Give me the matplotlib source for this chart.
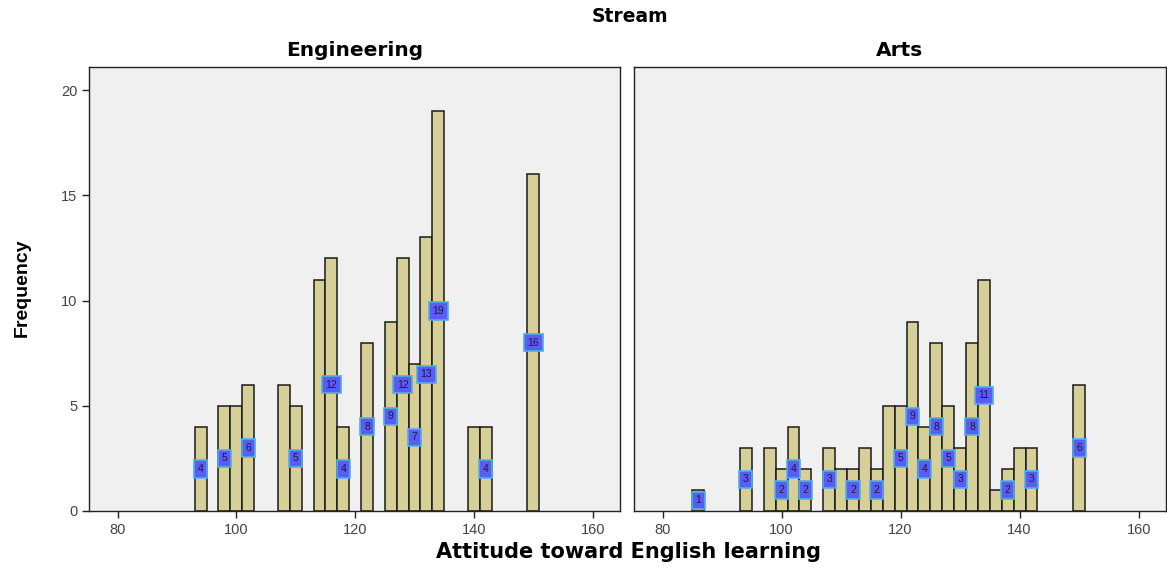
import matplotlib.pyplot as plt

# bins of width 2, centred on even scores
eng_x = [94, 98, 100, 102, 108, 110, 114, 116, 118, 122, 126, 128, 130, 132, 134, 140, 142, 150]
eng_n = [4, 5, 5, 6, 6, 5, 11, 12, 4, 8, 9, 12, 7, 13, 19, 4, 4, 16]
# labels that SPSS actually drew (others hidden by overlap)
eng_lab = [94, 98, 102, 110, 116, 118, 122, 126, 128, 130, 132, 134, 142, 150]

arts_x = [86, 94, 98, 100, 102, 104, 108, 110, 112, 114, 116, 118, 120, 122, 124,
          126, 128, 130, 132, 134, 136, 138, 140, 142, 150]
arts_n = [1, 3, 3, 2, 4, 2, 3, 2, 2, 3, 2, 5, 5, 9, 4, 8, 5, 3, 8, 11, 1, 2, 3, 3, 6]
arts_lab = [86, 94, 100, 102, 104, 108, 112, 116, 120, 122, 124, 126, 128, 130,
            132, 134, 138, 142, 150]

panels = [("Engineering", eng_x, eng_n, eng_lab), ("Arts", arts_x, arts_n, arts_lab)]

fig = plt.figure(figsize=(11.67, 5.67), dpi=100)
W, H = 1167, 567
boxes = [(89, 67, 620, 511), (634, 67, 1166, 511)]

for i, (name, xs, ns, labs) in enumerate(panels):
    l, t, r, b = boxes[i]
    ax = fig.add_axes([l / W, 1 - b / H, (r - l) / W, (b - t) / H])
    ax.set_facecolor('#f0f0f0')
    ax.bar(xs, ns, width=2, color='#d6cf98', edgecolor='#1a1a1a', linewidth=1.1, zorder=2)
    for x, n in zip(xs, ns):
        if x in labs:
            ax.text(x, n / 2, str(n), ha='center', va='center', fontsize=7.5, color='#1a1a40',
                    family='Liberation Sans', zorder=3,
                    bbox=dict(boxstyle='square,pad=0.35', fc='#5b5bf5', ec='#4fb0e0', lw=1.2))
    ax.set_xlim(75.2, 164.6)
    ax.set_ylim(0, 21.1)
    ax.set_xticks([80, 100, 120, 140, 160])
    ax.set_yticks([0, 5, 10, 15, 20])
    ax.tick_params(direction='out', length=5, width=1, colors='#222222', labelcolor='#444444',
                   labelsize=10.5)
    for lab in ax.get_xticklabels() + ax.get_yticklabels():
        lab.set_family('Liberation Sans')
    if i == 1:
        ax.tick_params(axis='y', left=False, labelleft=False)
    for s in ax.spines.values():
        s.set_color('#222222')
        s.set_linewidth(1)
    ax.set_title(name, fontsize=14.5, fontweight='bold', pad=8)

fig.text(630 / W, 1 - 17 / H, 'Stream', ha='center', va='center', fontsize=13.5, fontweight='bold')
fig.text(628 / W, 1 - 552 / H, 'Attitude toward English learning', ha='center', va='center',
         fontsize=15, fontweight='bold')
fig.text(22 / W, 1 - 288 / H, 'Frequency', ha='center', va='center', rotation=90,
         fontsize=14, fontweight='bold', family='Liberation Sans', stretch='condensed')

fig.savefig('out.png', dpi=100)
